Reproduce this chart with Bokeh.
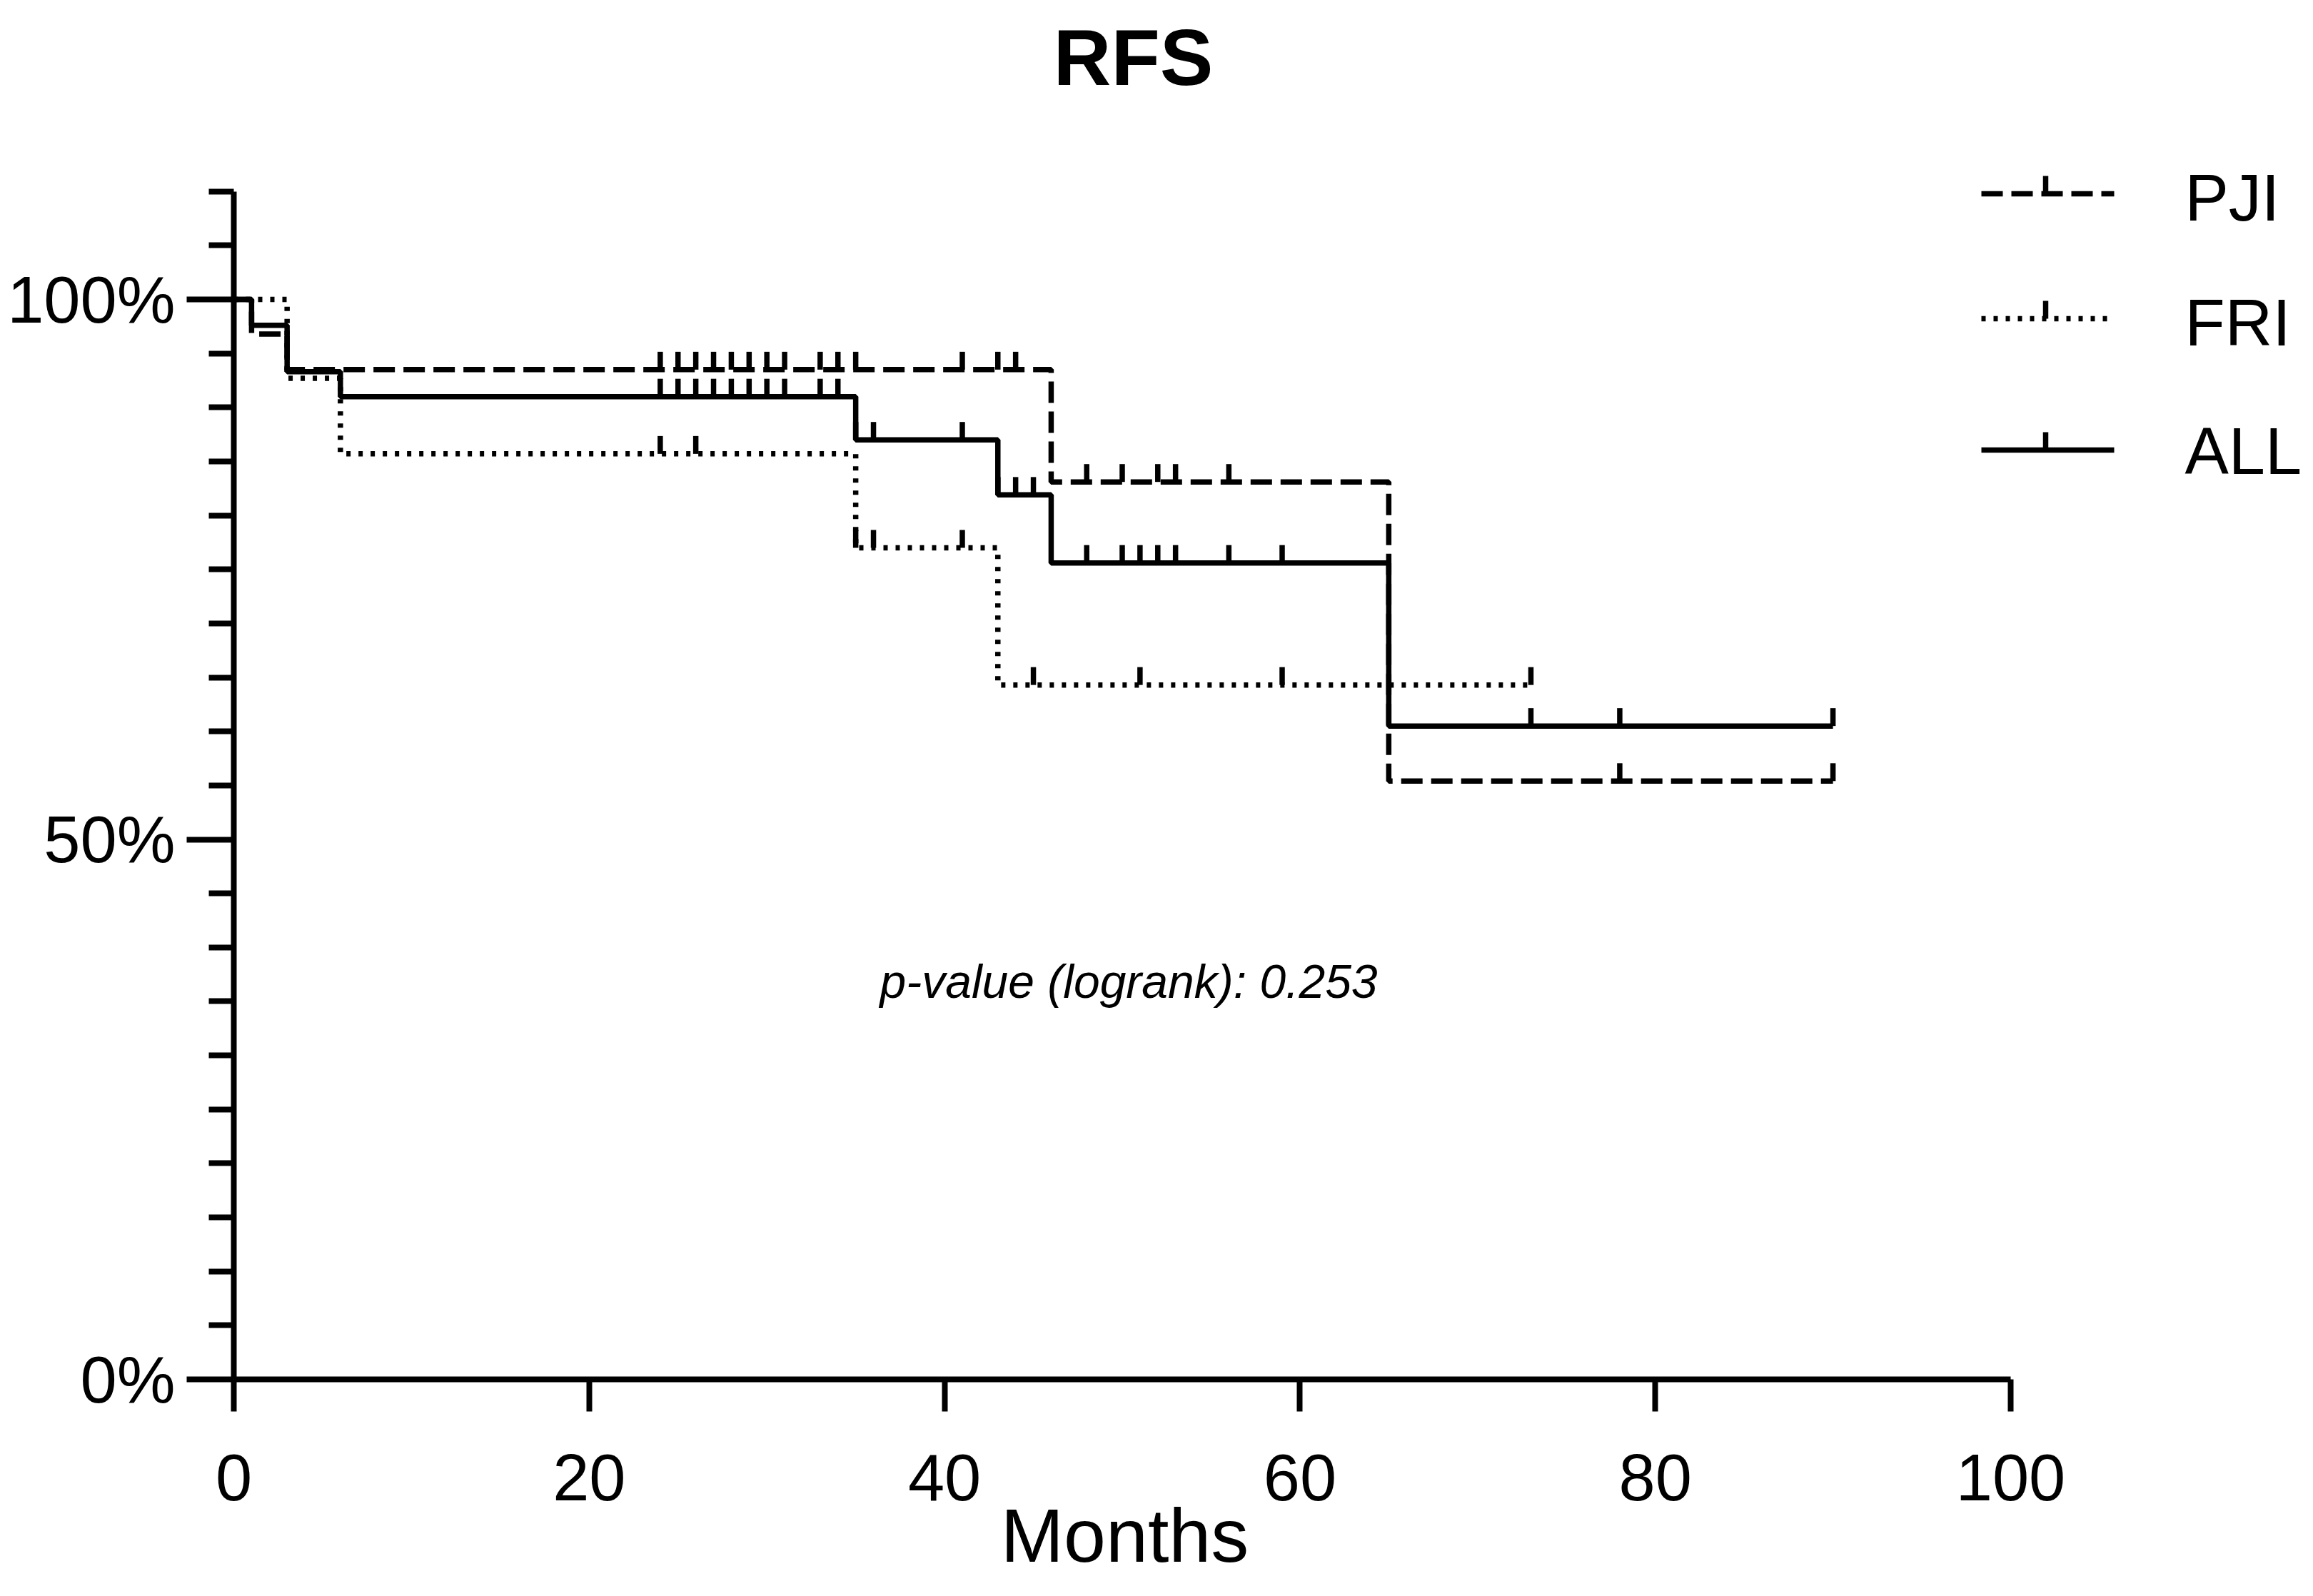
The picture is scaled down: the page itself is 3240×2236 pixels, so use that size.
import numpy as np
from bokeh.plotting import figure
from bokeh.models import Range1d, FixedTicker
from bokeh.core.properties import value
from bokeh.embed import file_html
from bokeh.resources import INLINE

# ---------------- data ----------------
SERIES_NAMES = ["PJI", "FRI", "ALL"]

PJI_TIME = [0, 1, 3, 46, 65, 90]
PJI_SURV = [100, 96.8, 93.5, 83.1, 55.4, 55.4]
PJI_CENSOR = [24, 25, 26, 27, 28, 29, 30, 31, 33, 34, 35, 41, 43, 44,
              48, 50, 52, 53, 56, 78, 90]

FRI_TIME = [0, 3, 6, 35, 43, 73]
FRI_SURV = [100, 92.7, 85.7, 77.0, 64.3, 64.3]
FRI_CENSOR = [24, 26, 35, 36, 41, 45, 51, 59, 73]

ALL_TIME = [0, 1, 3, 6, 35, 43, 46, 65, 90]
ALL_SURV = [100, 97.6, 93.3, 91.0, 87.0, 81.9, 75.6, 60.5, 60.5]
ALL_CENSOR = [24, 25, 26, 27, 28, 29, 30, 31, 33, 34, 35, 36, 41, 43, 44, 45,
              48, 50, 51, 52, 53, 56, 59, 73, 78, 90]

X_TICKS = [0, 20, 40, 60, 80, 100]
Y_TICKS = [0, 50, 100]
Y_TICK_LABELS = ["0%", "50%", "100%"]
Y_MINOR_TICKS = [5, 10, 15, 20, 25, 30, 35, 40, 45, 55, 60, 65, 70, 75, 80,
                 85, 90, 95, 105, 110]

TITLE = "RFS"
X_LABEL = "Months"
P_TEXT = "p-value (logrank): 0.253"

# ---------------- layout / style ----------------
W, H = 3224, 2220
LEFT_OF_AXIS = 327        # pixels of frame left of the y axis line
BELOW_AXIS = 288          # pixels of frame below the x axis line
RIGHT_OF_AXIS = W - LEFT_OF_AXIS
ABOVE_AXIS = H - BELOW_AXIS
PX_PER_MONTH = 24.89
PX_PER_PCT = 15.13
FONT_NAME = "Liberation Sans"
FONT = value(FONT_NAME)
LW = 7.5
AXIS_LW = 8
TICK_LEN = 25 / PX_PER_PCT
DASHES = {"PJI": "30 12", "FRI": "6 11", "ALL": "solid"}

series = {
    "PJI": (PJI_TIME, PJI_SURV, PJI_CENSOR),
    "FRI": (FRI_TIME, FRI_SURV, FRI_CENSOR),
    "ALL": (ALL_TIME, ALL_SURV, ALL_CENSOR),
}


def surv_at(times, surv, t):
    idx = np.searchsorted(np.asarray(times), np.asarray(t), side="right") - 1
    return np.asarray(surv)[idx]


p = figure(width=W, height=H,
           x_range=Range1d(-LEFT_OF_AXIS / PX_PER_MONTH,
                           RIGHT_OF_AXIS / PX_PER_MONTH),
           y_range=Range1d(-BELOW_AXIS / PX_PER_PCT, ABOVE_AXIS / PX_PER_PCT),
           output_backend="svg", toolbar_location=None,
           min_border_left=0, min_border_bottom=0,
           min_border_top=0, min_border_right=0,
           outline_line_color=None, background_fill_color="white",
           border_fill_color="white")
p.extra_x_ranges = {"px": Range1d(-LEFT_OF_AXIS, RIGHT_OF_AXIS)}
p.extra_y_ranges = {"px": Range1d(-BELOW_AXIS, ABOVE_AXIS)}
p.xgrid.visible = False
p.ygrid.visible = False

# x axis (drawn at y = 0 inside the frame)
xa = p.xaxis[0]
xa.fixed_location = 0
xa.bounds = (0, 100)
xa.ticker = FixedTicker(ticks=X_TICKS, minor_ticks=[])
xa.axis_line_width = AXIS_LW
xa.axis_line_color = "black"
xa.major_tick_line_width = AXIS_LW
xa.major_tick_line_color = "black"
xa.major_tick_out = 45
xa.major_tick_in = 0
xa.minor_tick_out = 0
xa.minor_tick_in = 0
xa.major_label_text_font = FONT_NAME
xa.major_label_text_font_size = "92px"
xa.major_label_text_color = "black"
xa.major_label_standoff = 60

# y axis (drawn at x = 0 inside the frame)
ya = p.yaxis[0]
ya.fixed_location = 0
ya.bounds = (0, 110)
ya.ticker = FixedTicker(ticks=Y_TICKS, minor_ticks=Y_MINOR_TICKS)
ya.major_label_overrides = {t: l for t, l in zip(Y_TICKS, Y_TICK_LABELS)}
ya.axis_line_width = AXIS_LW
ya.axis_line_color = "black"
ya.major_tick_line_width = AXIS_LW
ya.major_tick_line_color = "black"
ya.minor_tick_line_width = AXIS_LW
ya.minor_tick_line_color = "black"
ya.major_tick_out = 66
ya.major_tick_in = 0
ya.minor_tick_out = 35
ya.minor_tick_in = 0
ya.major_label_text_font = FONT_NAME
ya.major_label_text_font_size = "92px"
ya.major_label_text_color = "black"
ya.major_label_standoff = 16

# curves and censor ticks
for name in SERIES_NAMES:
    t, s, c = series[name]
    p.step(x=t, y=s, mode="after", line_width=LW, line_color="black",
           line_dash=DASHES[name], line_cap="butt")
    cy = surv_at(t, s, c)
    p.segment(x0=c, y0=cy, x1=c, y1=cy + TICK_LEN, line_width=LW,
              line_color="black")

# legend (pixel coordinates, origin at the axes' corner)
LEG_X0, LEG_X1, LEG_TICK_X = 2448, 2634, 2538
LEG_Y = [1661, 1486, 1302]
LEG_TEXT_X = 2733
LEG_TEXT_Y = [1656, 1481, 1301]
for name, ly, ty in zip(SERIES_NAMES, LEG_Y, LEG_TEXT_Y):
    p.line(x=[LEG_X0, LEG_X1], y=[ly, ly], line_width=LW, line_color="black",
           line_dash=DASHES[name], line_cap="butt",
           x_range_name="px", y_range_name="px")
    p.segment(x0=[LEG_TICK_X], y0=[ly], x1=[LEG_TICK_X], y1=[ly + 25],
              line_width=LW, line_color="black",
              x_range_name="px", y_range_name="px")
    p.text(x=[LEG_TEXT_X], y=[ty], text=[name], text_font=FONT,
           text_font_size="92px", text_color="black", text_align="left",
           text_baseline="alphabetic", x_range_name="px", y_range_name="px")

# title
p.text(x=[1260], y=[1852], text=[TITLE], text_font=FONT,
       text_font_size="112px", text_font_style="bold", text_color="black",
       text_align="center", text_baseline="alphabetic",
       x_range_name="px", y_range_name="px")

# p-value annotation
p.text(x=[905], y=[558], text=[P_TEXT], text_font=FONT,
       text_font_size="66px", text_font_style="italic", text_color="black",
       text_align="left", text_baseline="alphabetic",
       x_range_name="px", y_range_name="px")

# x axis title, centred on the drawn axis
p.text(x=[1248], y=[-218], text=[X_LABEL], text_font=FONT,
       text_font_size="106px", text_color="black",
       text_align="center", text_baseline="alphabetic",
       x_range_name="px", y_range_name="px")

open("out.html", "w").write(file_html(p, INLINE, title="RFS"))
